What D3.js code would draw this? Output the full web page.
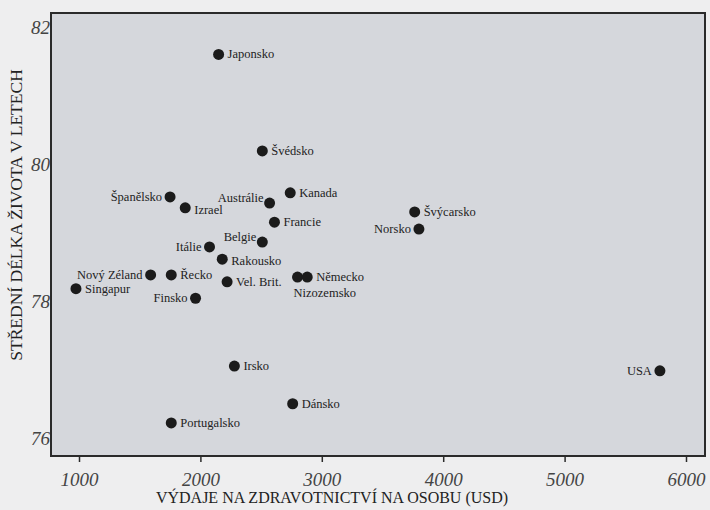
<!DOCTYPE html>
<html>
<head>
<meta charset="utf-8">
<script src="https://cdn.jsdelivr.net/npm/d3@7"></script>
<style>
  body { margin: 0; background: #eeeeef; }
  text { font-family: "Liberation Serif", "DejaVu Serif", serif; fill: #222; }
</style>
</head>
<body>
<div id="chart"></div>
<script>
// data
var countries = ["Japonsko", "Švédsko", "Španělsko", "Izrael", "Austrálie", "Kanada", "Francie",
  "Belgie", "Itálie", "Rakousko", "Nový Zéland", "Řecko", "Vel. Brit.", "Singapur", "Finsko",
  "Nizozemsko", "Německo", "Irsko", "Dánsko", "Portugalsko", "Švýcarsko", "Norsko", "USA"];
var spending = [2150, 2510, 1750, 1875, 2570, 2740, 2610,
  2510, 2075, 2180, 1590, 1760, 2220, 975, 1960,
  2800, 2880, 2280, 2760, 1760, 3765, 3800, 5785];
var lifeExp = [81.6, 80.19, 79.52, 79.36, 79.43, 79.58, 79.15,
  78.86, 78.79, 78.61, 78.38, 78.38, 78.28, 78.18, 78.04,
  78.35, 78.35, 77.05, 76.5, 76.22, 79.3, 79.05, 76.98];
var xTicks = [1000, 2000, 3000, 4000, 5000, 6000];
var yTicks = [76, 78, 80, 82];

// where each label sits relative to its dot (layout only)
var labelPos = {
  "Španělsko": "l", "Austrálie": "ul", "Belgie": "ul", "Itálie": "l", "Nový Zéland": "l",
  "Finsko": "l", "Norsko": "l", "USA": "l", "Nizozemsko": "b", "Izrael": "rd", "Rakousko": "rd"
};

var width = 710, height = 510;
var margin = { top: 13, right: 5, bottom: 54, left: 51 };

var svg = d3.select("#chart")
  .append("svg")
  .attr("width", width)
  .attr("height", height);

var x = d3.scaleLinear().domain([1000, 6000]).range([79, 686]);
var y = d3.scaleLinear().domain([76, 82]).range([438, 27]);

// plot panel
svg.append("rect")
  .attr("x", margin.left)
  .attr("y", margin.top)
  .attr("width", width - margin.left - margin.right)
  .attr("height", height - margin.top - margin.bottom)
  .attr("fill", "#d5d7dc")
  .attr("stroke", "#2a2a2a")
  .attr("stroke-width", 2);

// x axis
var xAxis = svg.append("g")
  .attr("transform", "translate(0," + (height - margin.bottom) + ")")
  .call(d3.axisBottom(x).tickValues(xTicks).tickSize(6).tickFormat(d3.format("d")));
xAxis.select(".domain").remove();
xAxis.selectAll("line").attr("stroke", "#2a2a2a").attr("stroke-width", 1.5);
xAxis.selectAll("text")
  .attr("dy", "1.1em")
  .style("font-size", "19px")
  .style("font-style", "italic")
  .style("fill", "#444");

// y axis
var yAxis = svg.append("g")
  .attr("transform", "translate(" + margin.left + ",0)")
  .call(d3.axisLeft(y).tickValues(yTicks).tickSize(0).tickPadding(1).tickFormat(d3.format("d")));
yAxis.select(".domain").remove();
yAxis.selectAll("text")
  .style("font-size", "19px")
  .style("font-style", "italic")
  .style("fill", "#444");

// axis titles
svg.append("text")
  .attr("x", 332)
  .attr("y", 503)
  .style("text-anchor", "middle")
  .style("font-size", "16px")
  .text("VÝDAJE NA ZDRAVOTNICTVÍ NA OSOBU (USD)");

svg.append("text")
  .attr("transform", "translate(22,215) rotate(-90)")
  .style("text-anchor", "middle")
  .style("font-size", "17.5px")
  .text("STŘEDNÍ DÉLKA ŽIVOTA V LETECH");

var data = countries.map(function (c, i) {
  return { name: c, v: spending[i], e: lifeExp[i] };
});

// dots
svg.selectAll("circle")
  .data(data)
  .enter()
  .append("circle")
  .attr("cx", function (d) { return x(d.v); })
  .attr("cy", function (d) { return y(d.e); })
  .attr("r", 5.5)
  .attr("fill", "#1b1b1b");

// labels
svg.selectAll(".lbl")
  .data(data)
  .enter()
  .append("text")
  .attr("class", "lbl")
  .style("font-size", "12.5px")
  .attr("x", function (d) {
    var p = labelPos[d.name] || "r";
    if (p == "l") return x(d.v) - 8;
    if (p == "ul") return x(d.v) - 6;
    if (p == "b") return x(d.v) - 4;
    return x(d.v) + 9;
  })
  .attr("y", function (d) {
    var p = labelPos[d.name] || "r";
    if (p == "ul") return y(d.e) - 1;
    if (p == "b") return y(d.e) + 20;
    if (p == "rd") return y(d.e) + 6;
    return y(d.e) + 4;
  })
  .style("text-anchor", function (d) {
    var p = labelPos[d.name] || "r";
    return (p == "l" || p == "ul") ? "end" : "start";
  })
  .text(function (d) { return d.name; });
</script>
</body>
</html>
